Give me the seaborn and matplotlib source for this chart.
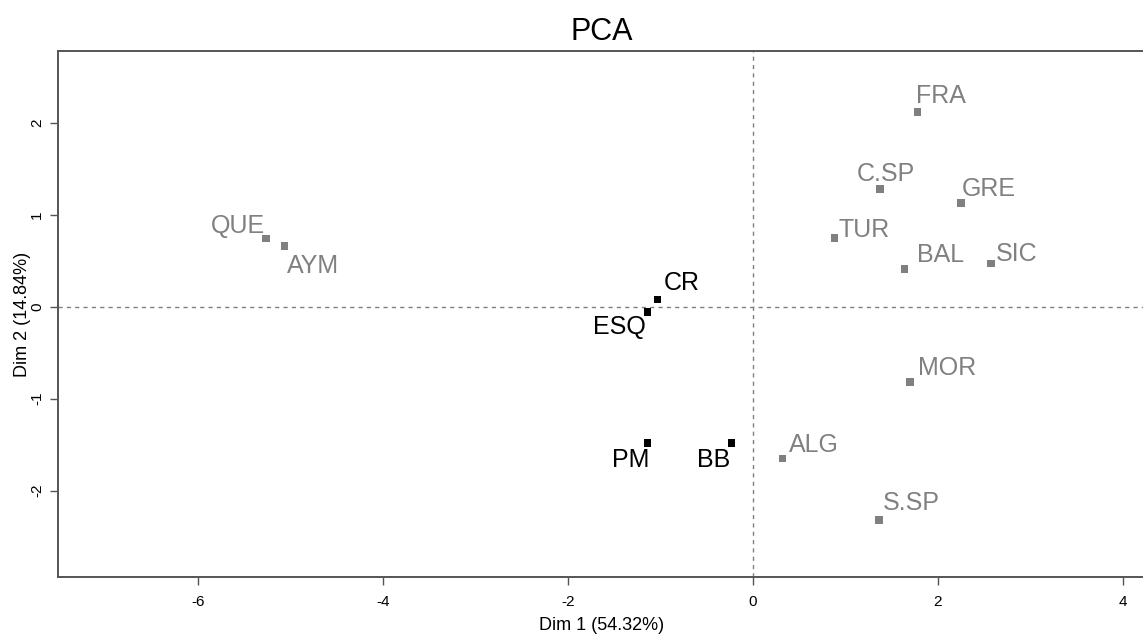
import seaborn as sns
import matplotlib.pyplot as plt
import pandas as pd

# coordonnées des individus sur les deux premiers axes
labels = ["FRA", "C.SP", "GRE", "TUR", "BAL", "SIC", "MOR", "ALG", "S.SP",
          "QUE", "AYM", "CR", "ESQ", "PM", "BB"]
dim1 = [1.78, 1.37, 2.25, 0.88, 1.64, 2.57, 1.70, 0.32, 1.36,
        -5.26, -5.06, -1.03, -1.14, -1.14, -0.23]
dim2 = [2.12, 1.28, 1.13, 0.75, 0.41, 0.47, -0.82, -1.65, -2.32,
        0.74, 0.66, 0.08, -0.06, -1.48, -1.48]
groupe = ["sup"] * 11 + ["actif"] * 4

df = pd.DataFrame({"label": labels, "Dim1": dim1, "Dim2": dim2, "groupe": groupe})

# placement des étiquettes (décalage en pixels, alignement)
decalage = {
    "FRA": (-2, 9, "left"), "C.SP": (6, 8, "center"), "GRE": (1, 7, "left"),
    "TUR": (4, 1, "left"), "BAL": (12, 7, "left"), "SIC": (5, 3, "left"),
    "MOR": (8, 7, "left"), "ALG": (6, 6, "left"), "S.SP": (4, 10, "left"),
    "QUE": (-1, 6, "right"), "AYM": (2, -27, "left"), "CR": (6, 9, "left"),
    "ESQ": (-2, -22, "right"), "PM": (2, -24, "right"), "BB": (-1, -24, "right"),
}
couleurs = {"sup": "#808080", "actif": "black"}

sns.set_theme(style="white")
plt.rcParams["font.family"] = ["Liberation Sans", "DejaVu Sans"]
plt.rcParams["axes.unicode_minus"] = False
plt.rcParams["text.color"] = "black"
plt.rcParams["axes.labelcolor"] = "black"
plt.rcParams["xtick.color"] = "black"
plt.rcParams["ytick.color"] = "black"

fig = plt.figure(figsize=(11.43, 6.39), dpi=100)
ax = fig.add_axes([0.0507, 0.097, 0.9513, 0.823])

ax.axhline(0, color="#808080", lw=1, ls=(0, (3, 3)), zorder=0)
ax.axvline(0, color="#808080", lw=1, ls=(0, (3, 3)), zorder=0)

sns.scatterplot(data=df, x="Dim1", y="Dim2", hue="groupe", palette=couleurs,
                marker="s", s=30, linewidth=0, legend=False, ax=ax)

for _, r in df.iterrows():
    dx, dy, ha = decalage[r["label"]]
    ax.annotate(r["label"], (r["Dim1"], r["Dim2"]), xytext=(dx, dy),
                textcoords="offset pixels", ha=ha, va="baseline",
                fontsize=18, color=couleurs[r["groupe"]])

ax.set_xlim(-7.51, 4.24)
ax.set_ylim(-2.94, 2.78)
ax.set_xticks([-6, -4, -2, 0, 2, 4])
ax.set_yticks([-2, -1, 0, 1, 2])
ax.tick_params(axis="both", which="major", direction="out", length=6, width=1,
               color="#555555", labelsize=11, bottom=True, left=True, pad=7)
plt.setp(ax.get_yticklabels(), rotation=90, va="center")
ax.tick_params(axis="y", pad=4)

for cote, sp in ax.spines.items():
    sp.set_color("#555555")
    sp.set_linewidth(1.4)

ax.set_xlabel("Dim 1 (54.32%)", fontsize=13, labelpad=6)
ax.set_ylabel("Dim 2 (14.84%)", fontsize=13, labelpad=-1)
ax.set_title("PCA", fontsize=22, pad=8, color="black")

fig.savefig("out.png", dpi=100)
